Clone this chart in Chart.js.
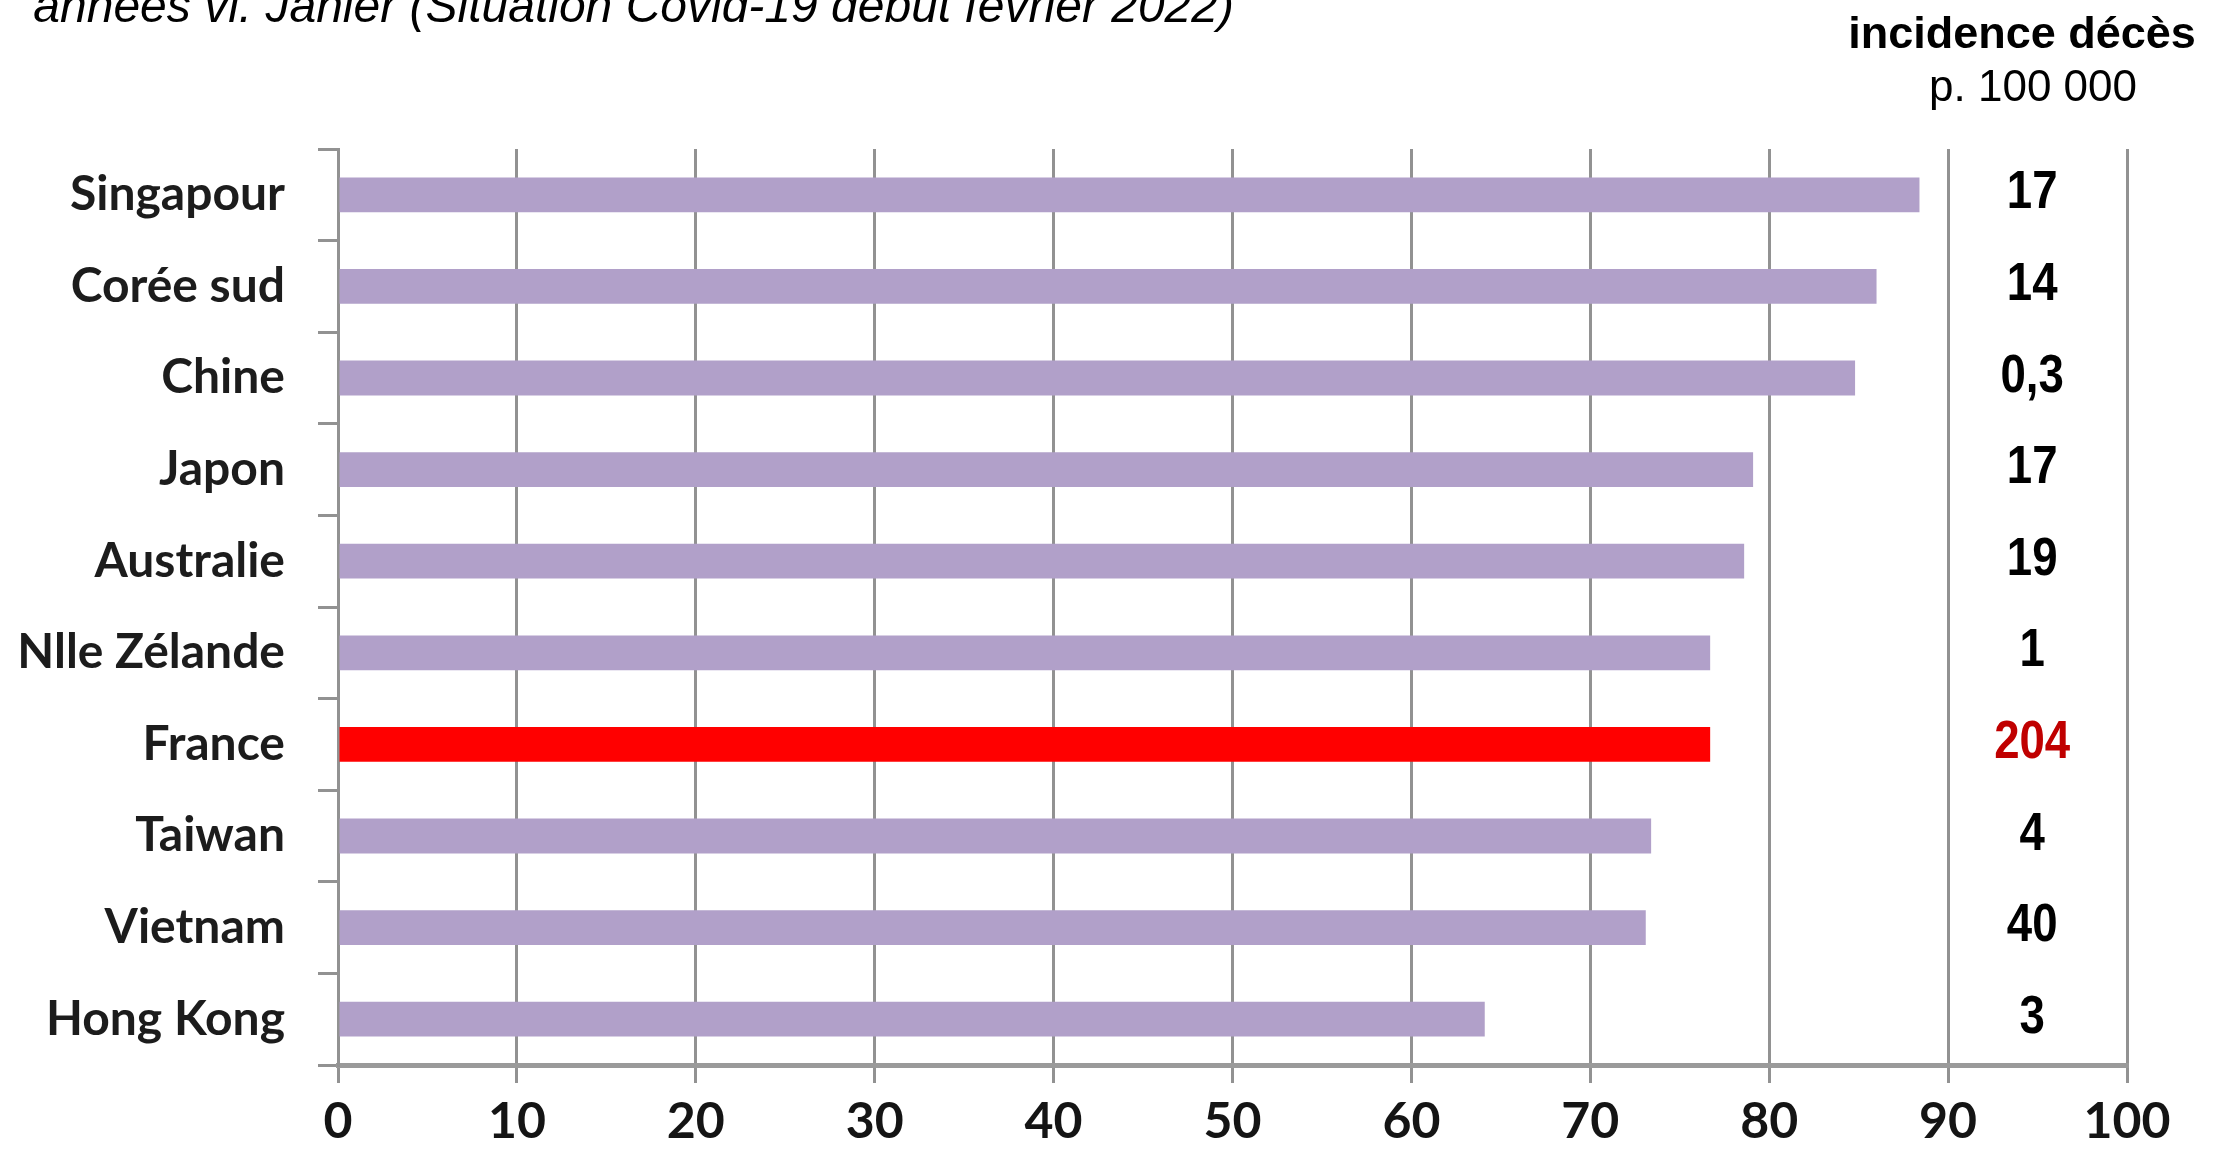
<!DOCTYPE html>
<html lang="fr">
<head>
<meta charset="utf-8">
<title>Incidence décès</title>
<script src="https://cdn.jsdelivr.net/npm/chart.js@4.4.1/dist/chart.umd.min.js"></script>
<style>
    html, body { margin: 0; padding: 0; background: #fff; overflow: hidden; }
    #wrap { position: relative; width: 2237px; height: 1157px; }
    #chart { position: absolute; left: 0; top: 0; }
    .note { position: absolute; font-family: "Liberation Sans", Arial, sans-serif; color: #000; white-space: nowrap; line-height: 1; }
    #title { right: 1003px; top: -18px; font-size: 48px; font-style: italic; }
    #head1 { left: 2022px; top: 10px; font-size: 45px; font-weight: bold; transform: translateX(-50%); }
    #head2 { left: 2033px; top: 64px; font-size: 44px; transform: translateX(-50%); }
</style>
</head>
<body>
<div id="wrap">
    <canvas id="chart" width="2237" height="1157"></canvas>
    <div class="note" id="title">années vi. Janier (Situation Covid-19 début février 2022)</div>
    <div class="note" id="head1">incidence décès</div>
    <div class="note" id="head2">p. 100 000</div>
</div>
<script>
// countries, top to bottom
const countries = ['Singapour', 'Corée sud', 'Chine', 'Japon', 'Australie', 'Nlle Zélande', 'France', 'Taiwan', 'Vietnam', 'Hong Kong'];
// bar lengths
const barValues = [88.4, 86.0, 84.8, 79.1, 78.6, 76.7, 76.7, 73.4, 73.1, 64.1];
// right-hand column: deaths per 100 000
const deathRates = ['17', '14', '0,3', '17', '19', '1', '204', '4', '40', '3'];
const highlighted = 'France';

const xMin = 0;
const xMax = 100;
const xStep = 10;

const purple = '#b1a0c9';
const red = '#ff0000';
const gridGrey = '#929292';

// draws the death-rate column beside each bar (slightly condensed bold)
const rateColumn = {
    id: 'rateColumn',
    afterDatasetsDraw(chart) {
        const { ctx, scales } = chart;
        const squeeze = 0.86;
        const x = scales.x.getPixelForValue(94.7);
        ctx.save();
        ctx.font = 'bold 53px "Liberation Sans", Arial, sans-serif';
        ctx.textAlign = 'center';
        ctx.textBaseline = 'middle';
        ctx.translate(x, 0);
        ctx.scale(squeeze, 1);
        deathRates.forEach((txt, i) => {
            ctx.fillStyle = countries[i] === highlighted ? '#c00000' : '#000';
            ctx.fillText(txt, 0, scales.y.getPixelForValue(i) - 1);
        });
        ctx.restore();
    }
};

new Chart(document.getElementById('chart'), {
    type: 'bar',
    data: {
        labels: countries,
        datasets: [{
            data: barValues,
            backgroundColor: countries.map(c => c === highlighted ? red : purple),
            barPercentage: 0.38,
            categoryPercentage: 1.0
        }]
    },
    options: {
        indexAxis: 'y',
        responsive: false,
        animation: false,
        layout: { padding: { top: 149, right: 110, left: 0, bottom: 0 } },
        plugins: {
            legend: { display: false },
            tooltip: { enabled: false }
        },
        scales: {
            x: {
                min: xMin,
                max: xMax,
                ticks: {
                    stepSize: xStep,
                    color: '#141414',
                    padding: 9,
                    font: { family: 'Lato', weight: 'bold', size: 50 }
                },
                grid: { color: gridGrey, lineWidth: 3, tickLength: 18 },
                border: { color: '#9a9a9a', width: 5 },
                afterFit(scale) {
                    scale.height = 92;
                    scale.paddingLeft = 0;
                    scale.paddingRight = 0;
                }
            },
            y: {
                ticks: {
                    color: '#1c1c1c',
                    padding: 33,
                    font: { family: 'Lato', weight: 'bold', size: 48 }
                },
                grid: { drawOnChartArea: false, color: gridGrey, lineWidth: 3, tickLength: 20, offset: true },
                border: { color: gridGrey, width: 3 },
                afterFit(scale) {
                    scale.width = 338;
                    scale.paddingTop = 0;
                    scale.paddingBottom = 0;
                }
            }
        }
    },
    plugins: [rateColumn]
});
</script>
</body>
</html>
